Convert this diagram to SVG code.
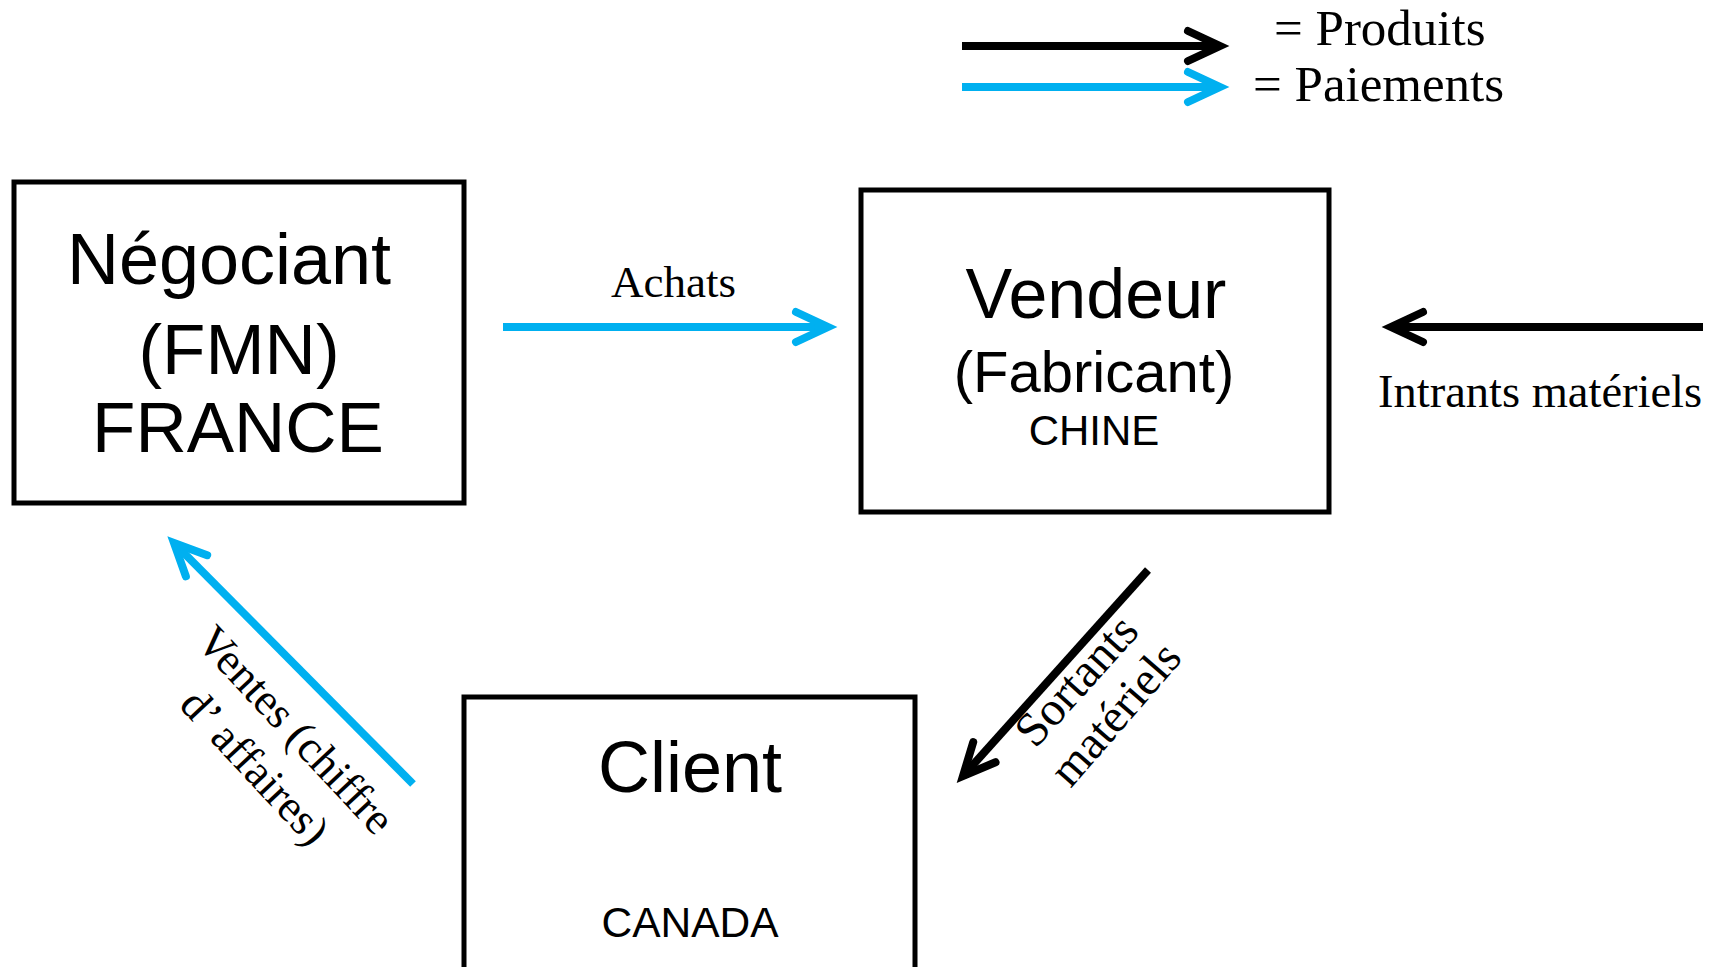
<svg xmlns="http://www.w3.org/2000/svg" width="1727" height="967" viewBox="0 0 1727 967">
<style>
.box{fill:#fff;stroke:#000;stroke-width:5}
.sans{font-family:"Liberation Sans",Arial,sans-serif;fill:#000;text-anchor:middle}
.serif{font-family:"Liberation Serif","Times New Roman",serif;fill:#000}
.mid{text-anchor:middle}
.blk{fill:none;stroke:#000;stroke-width:8}
.blu{fill:none;stroke:#00B0F0;stroke-width:8}
</style>
<defs>
<marker id="hb" markerUnits="userSpaceOnUse" markerWidth="80" markerHeight="80" refX="0" refY="0" orient="auto" overflow="visible" viewBox="-40 -40 80 80">
<path d="M-32,-15 L0,0 L-32,15" fill="none" stroke="#000" stroke-width="8" stroke-linecap="round" stroke-linejoin="miter"/>
</marker>
<marker id="hc" markerUnits="userSpaceOnUse" markerWidth="80" markerHeight="80" refX="0" refY="0" orient="auto" overflow="visible" viewBox="-40 -40 80 80">
<path d="M-32,-15 L0,0 L-32,15" fill="none" stroke="#00B0F0" stroke-width="8" stroke-linecap="round" stroke-linejoin="miter"/>
</marker>
</defs>
<rect width="1727" height="967" fill="#fff"/>
<g id="legend">
<path class="blk" d="M962,46 L1220,46" marker-end="url(#hb)"/>
<path class="blu" d="M962,87 L1220,87" marker-end="url(#hc)"/>
<text class="serif" x="1274" y="45" font-size="51">= Produits</text>
<text class="serif" x="1253" y="101" font-size="51">= Paiements</text>
</g>
<g id="negociant">
<rect class="box" x="14" y="182" width="450" height="321"/>
<text class="sans" x="229" y="284" font-size="72">Négociant</text>
<text class="sans" x="239" y="374" font-size="71">(FMN)</text>
<text class="sans" x="238" y="452" font-size="71">FRANCE</text>
</g>
<g id="vendeur">
<rect class="box" x="861" y="190" width="468" height="322"/>
<text class="sans" x="1096" y="318" font-size="70">Vendeur</text>
<text class="sans" x="1094" y="392" font-size="58">(Fabricant)</text>
<text class="sans" x="1094" y="445" font-size="42">CHINE</text>
</g>
<g id="client">
<rect class="box" x="464" y="697" width="451" height="320"/>
<text class="sans" x="690" y="792" font-size="72">Client</text>
<text class="sans" x="690" y="937" font-size="42.5">CANADA</text>
</g>
<g id="connectors">
<path class="blu" d="M503,327 L828,327" marker-end="url(#hc)"/>
<path class="blk" d="M1703,327 L1391,327" marker-end="url(#hb)"/>
<path class="blu" d="M413,784 L174,543" marker-end="url(#hc)"/>
<path class="blk" d="M1148,570 L963,776" marker-end="url(#hb)"/>
</g>
<g id="labels">
<text class="serif" x="611" y="297" font-size="45">Achats</text>
<text class="serif" x="1378" y="407" font-size="46.5">Intrants matériels</text>
<text class="serif mid" font-size="45" transform="translate(285,740) rotate(47)">Ventes (chiffre</text>
<text class="serif mid" font-size="45" transform="translate(244,777) rotate(47)">d’ affaires)</text>
<text class="serif mid" font-size="48" transform="translate(1088,691) rotate(-48)">Sortants</text>
<text class="serif mid" font-size="47" transform="translate(1127,724) rotate(-49)">matériels</text>
</g>
</svg>
